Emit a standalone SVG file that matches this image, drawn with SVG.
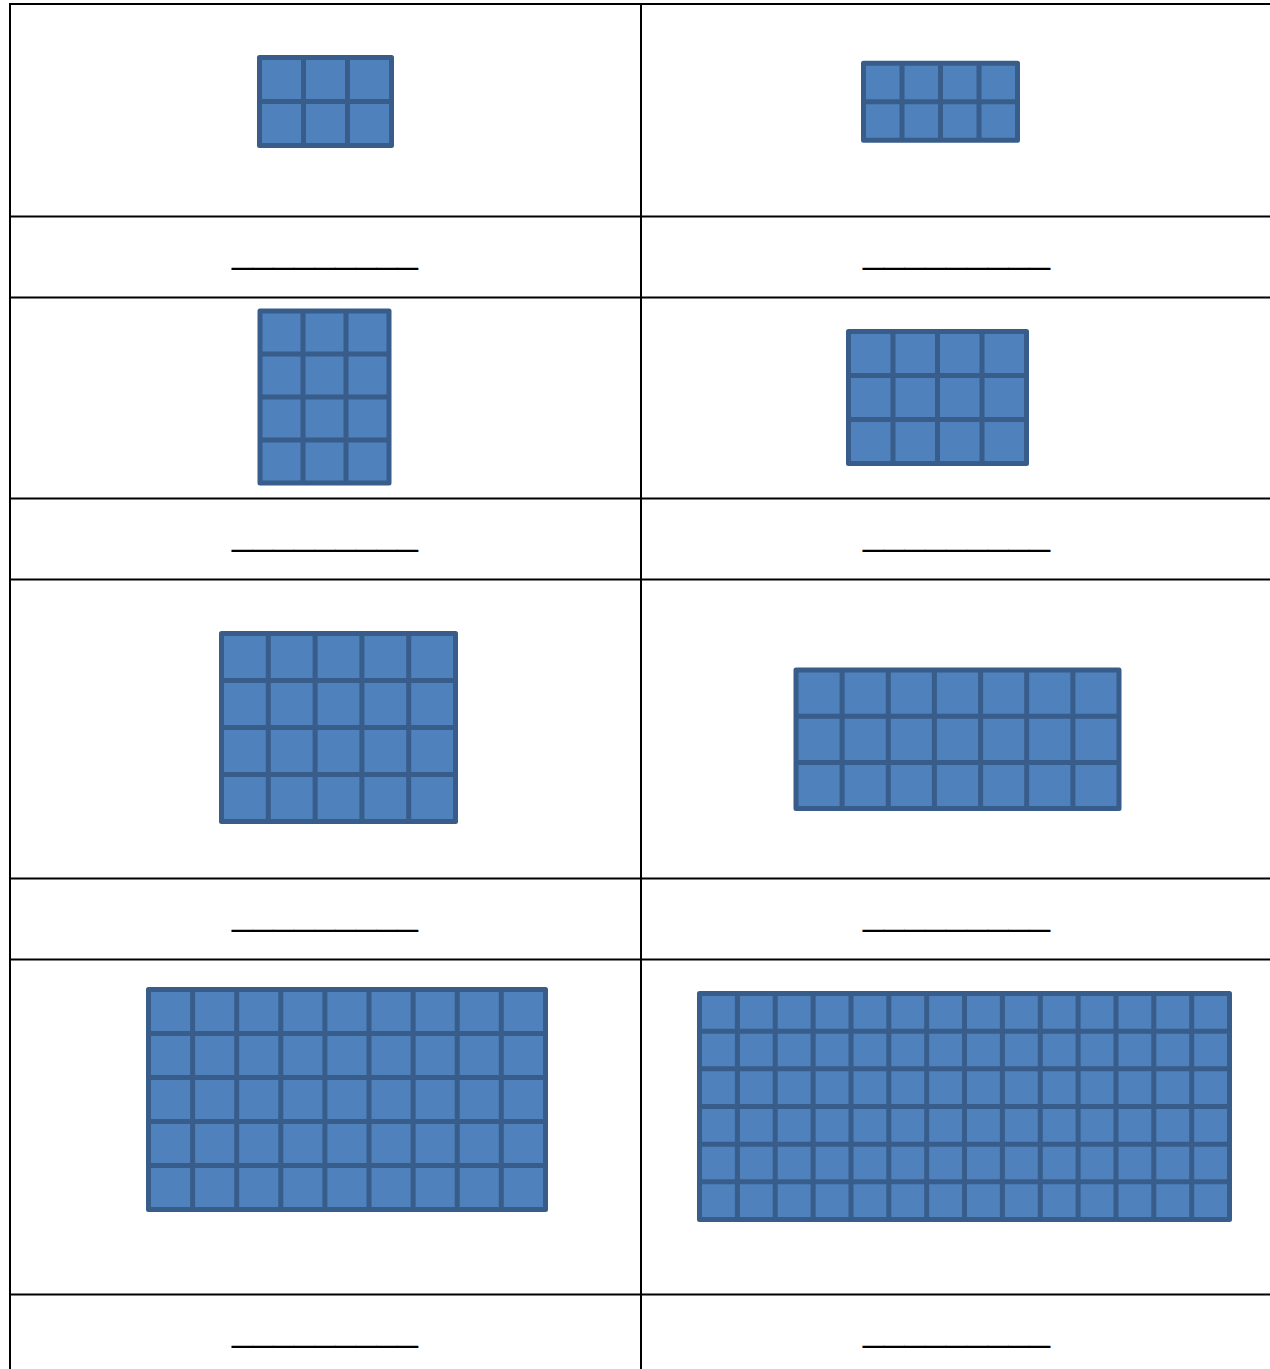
<svg xmlns="http://www.w3.org/2000/svg" width="1270" height="1369" viewBox="0 0 1270 1369">
<style>
.tbl{stroke:#000;stroke-width:2;fill:none}
.box{fill:#4F81BD;stroke:#385D8A;stroke-width:5;stroke-linejoin:round}
.gl{fill:none;stroke:#385D8A;stroke-width:5}
.blank{font-family:"Liberation Sans",Arial,sans-serif;font-size:37px;fill:#000}
</style>
<rect width="1270" height="1369" fill="#fff"/>
<g id="table" class="tbl">
<path d="M10 3V1369M641 3V1369M9 4H1270M9 216.5H1270M9 297.5H1270M9 498.5H1270M9 579.5H1270M9 878.5H1270M9 959.5H1270M9 1294.5H1270"/>
</g>
<g id="grid-3x2">
<rect class="box" x="259.5" y="57.5" width="132" height="88"/>
<path class="gl" d="M303.5 57.5V145.5M347.5 57.5V145.5M259.5 101.5H391.5"/>
</g>
<g id="grid-4x2">
<rect class="box" x="863.5" y="63.2" width="154" height="77"/>
<path class="gl" d="M902 63.2V140.2M940.5 63.2V140.2M979 63.2V140.2M863.5 101.7H1017.5"/>
</g>
<g id="grid-3x4">
<rect class="box" x="260" y="311" width="129" height="172"/>
<path class="gl" d="M303 311V483M346 311V483M260 354H389M260 397H389M260 440H389"/>
</g>
<g id="grid-4x3">
<rect class="box" x="848.5" y="331.5" width="178" height="132"/>
<path class="gl" d="M893 331.5V463.5M937.5 331.5V463.5M982 331.5V463.5M848.5 375.5H1026.5M848.5 419.5H1026.5"/>
</g>
<g id="grid-5x4">
<rect class="box" x="221.5" y="633.5" width="234" height="188"/>
<path class="gl" d="M268.3 633.5V821.5M315.1 633.5V821.5M361.9 633.5V821.5M408.7 633.5V821.5M221.5 680.5H455.5M221.5 727.5H455.5M221.5 774.5H455.5"/>
</g>
<g id="grid-7x3">
<rect class="box" x="796" y="670" width="323" height="138.6"/>
<path class="gl" d="M842.1 670V808.6M888.3 670V808.6M934.4 670V808.6M980.6 670V808.6M1026.7 670V808.6M1072.9 670V808.6M796 716.2H1119M796 762.4H1119"/>
</g>
<g id="grid-9x5">
<rect class="box" x="148.5" y="989.5" width="397" height="220"/>
<path class="gl" d="M192.6 989.5V1209.5M236.7 989.5V1209.5M280.8 989.5V1209.5M324.9 989.5V1209.5M369 989.5V1209.5M413.1 989.5V1209.5M457.2 989.5V1209.5M501.3 989.5V1209.5M148.5 1033.5H545.5M148.5 1077.5H545.5M148.5 1121.5H545.5M148.5 1165.5H545.5"/>
</g>
<g id="grid-14x6">
<rect class="box" x="699.5" y="993.5" width="530" height="226"/>
<path class="gl" d="M737.4 993.5V1219.5M775.2 993.5V1219.5M813.1 993.5V1219.5M851 993.5V1219.5M888.8 993.5V1219.5M926.7 993.5V1219.5M964.5 993.5V1219.5M1002.4 993.5V1219.5M1040.3 993.5V1219.5M1078.1 993.5V1219.5M1116 993.5V1219.5M1153.8 993.5V1219.5M1191.7 993.5V1219.5M699.5 1031.2H1229.5M699.5 1068.8H1229.5M699.5 1106.5H1229.5M699.5 1144.2H1229.5M699.5 1181.8H1229.5"/>
</g>
<g id="blanks" class="blank">
<text x="232" y="263" textLength="186" lengthAdjust="spacingAndGlyphs">_________</text>
<text x="863" y="263" textLength="187" lengthAdjust="spacingAndGlyphs">_________</text>
<text x="232" y="545" textLength="186" lengthAdjust="spacingAndGlyphs">_________</text>
<text x="863" y="545" textLength="187" lengthAdjust="spacingAndGlyphs">_________</text>
<text x="232" y="925" textLength="186" lengthAdjust="spacingAndGlyphs">_________</text>
<text x="863" y="925" textLength="187" lengthAdjust="spacingAndGlyphs">_________</text>
<text x="232" y="1341" textLength="186" lengthAdjust="spacingAndGlyphs">_________</text>
<text x="863" y="1341" textLength="187" lengthAdjust="spacingAndGlyphs">_________</text>
</g>
</svg>
